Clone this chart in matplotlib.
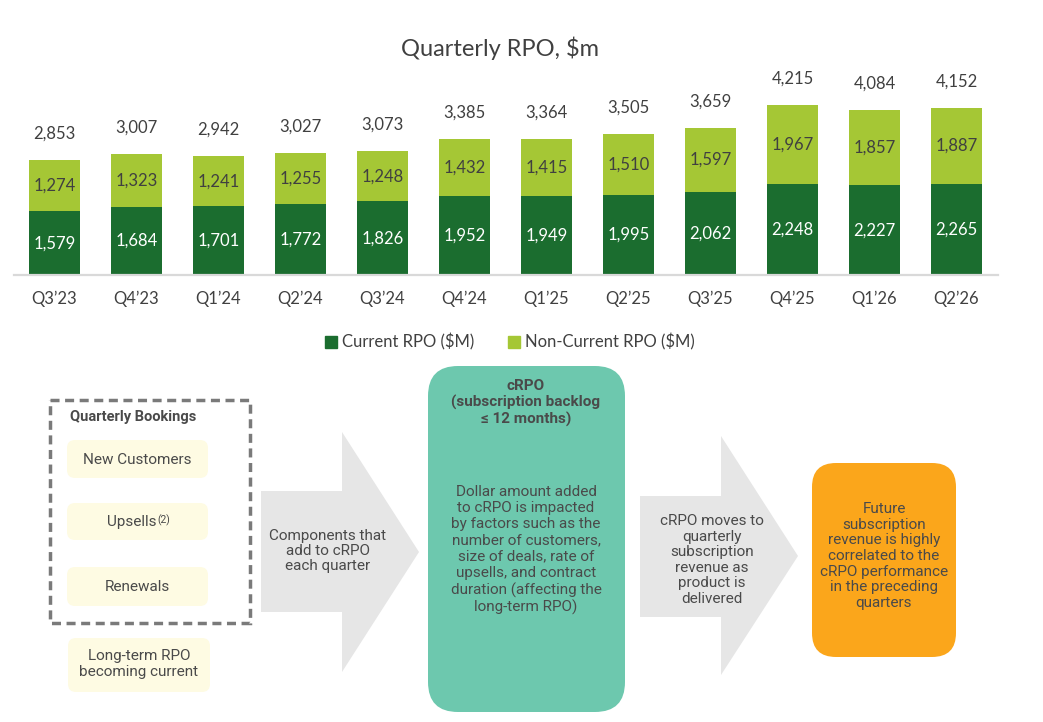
import matplotlib
matplotlib.use("Agg")
import matplotlib.pyplot as plt
from matplotlib.patches import FancyBboxPatch, Rectangle, Polygon, Patch

# ---------------- data ----------------
quarters = ["Q3’23", "Q4’23", "Q1’24", "Q2’24", "Q3’24", "Q4’24",
            "Q1’25", "Q2’25", "Q3’25", "Q4’25", "Q1’26", "Q2’26"]
current_rpo = [1579, 1684, 1701, 1772, 1826, 1952, 1949, 1995, 2062, 2248, 2227, 2265]
noncurrent_rpo = [1274, 1323, 1241, 1255, 1248, 1432, 1415, 1510, 1597, 1967, 1857, 1887]
total_rpo = [2853, 3007, 2942, 3027, 3073, 3385, 3364, 3505, 3659, 4215, 4084, 4152]
series_names = ["Current RPO ($M)", "Non-Current RPO ($M)"]

DARK = "#1B6D2F"
LIGHT = "#A5C735"
TXT = "#404040"
CH_FONT = ["Lato", "DejaVu Sans"]
DG_FONT = ["Roboto", "DejaVu Sans"]
DFS = 11

W, H = 1043, 722
fig = plt.figure(figsize=(W / 100, H / 100), dpi=100)

# overlay axes in pixel coordinates for diagram
ov = fig.add_axes([0, 0, 1, 1])
ov.set_xlim(0, W)
ov.set_ylim(H, 0)
ov.axis("off")

# ---------------- bar chart ----------------
ax = fig.add_axes([13.5 / W, 1 - 275 / H, 984 / W, 201.5 / H])
ax.set_zorder(2)
ax.patch.set_alpha(0)
x = list(range(len(quarters)))
b1 = ax.bar(x, current_rpo, width=0.62, color=DARK, label=series_names[0])
b2 = ax.bar(x, noncurrent_rpo, width=0.62, bottom=current_rpo, color=LIGHT,
            label=series_names[1])
ax.set_xlim(-0.5, len(quarters) - 0.5)
ax.set_ylim(0, 5000)
for s in ["top", "right", "left"]:
    ax.spines[s].set_visible(False)
ax.spines["bottom"].set_color("#d9d9d9")
ax.spines["bottom"].set_linewidth(1.6)
ax.set_yticks([])
ax.set_xticks(x)
ax.set_xticklabels(quarters, fontsize=12, color=TXT, family=CH_FONT)
ax.tick_params(axis="x", length=0, pad=11)

ax.bar_label(b1, labels=[f"{v:,}" for v in current_rpo], label_type="center",
             color="white", fontsize=12, family=CH_FONT)
ax.bar_label(b2, labels=[f"{v:,}" for v in noncurrent_rpo], label_type="center",
             color=TXT, fontsize=12, family=CH_FONT)
for i, t in enumerate(total_rpo):
    ax.annotate(f"{t:,}", xy=(i, current_rpo[i] + noncurrent_rpo[i]),
                xytext=(0, 19), textcoords="offset points", ha="center", va="center",
                fontsize=12, color=TXT, family=CH_FONT)

fig.text(500 / W, 1 - 48 / H, "Quarterly RPO, $m", ha="center", va="center",
         fontsize=17, color=TXT, family=CH_FONT)

handles = [Patch(color=DARK), Patch(color=LIGHT)]
fig.legend(handles, series_names, loc="center", bbox_to_anchor=(510 / W, 1 - 342 / H),
           ncol=2, frameon=False, handlelength=0.75, handleheight=0.75,
           handletextpad=0.3, columnspacing=2.0,
           prop={"family": CH_FONT, "size": 12}, labelcolor=TXT)

# ---------------- diagram ----------------
CREAM = "#FEFBE3"
GREY_ARROW = "#E6E6E6"
TEAL = "#6DC8AE"
ORANGE = "#FBA61B"
DTXT = "#4a4a4a"

# dashed box
ov.add_patch(Rectangle((50, 400), 200, 223, fill=False, edgecolor="#7a7a7a",
                       linewidth=2.5, linestyle=(0, (2.6, 1.6))))
ov.text(133, 417, "Quarterly Bookings", ha="center", va="center", fontsize=10.5,
        fontweight="bold", color=DTXT, family=DG_FONT)


def cream_box(x0, y0, w, h):
    ov.add_patch(FancyBboxPatch((x0, y0), w, h,
                                boxstyle="round,pad=0,rounding_size=8",
                                facecolor=CREAM, edgecolor="none"))


cream_box(67, 440, 141, 38)
ov.text(137.5, 460, "New Customers", ha="center", va="center", fontsize=DFS,
        color=DTXT, family=DG_FONT)
cream_box(67, 503, 141, 37)
t = ov.text(132, 522, "Upsells", ha="center", va="center", fontsize=DFS,
            color=DTXT, family=DG_FONT)
ov.annotate("(2)", xy=(1.02, 1.05), xycoords=t, ha="left", va="top", fontsize=7.5,
            color=DTXT, family=DG_FONT)
cream_box(67, 567, 141, 39)
ov.text(137.5, 587, "Renewals", ha="center", va="center", fontsize=DFS,
        color=DTXT, family=DG_FONT)
cream_box(68, 638, 142, 54)
ov.text(139, 664, "Long-term RPO\nbecoming current", ha="center", va="center",
        fontsize=DFS, color=DTXT, family=DG_FONT, linespacing=1.2)

# arrow 1
ov.add_patch(Polygon([(261, 491), (342, 491), (342, 432), (419, 552), (342, 672),
                      (342, 612), (261, 612)], closed=True, facecolor=GREY_ARROW,
                     edgecolor="none"))
ov.text(328, 551, "Components that\nadd to cRPO\neach quarter", ha="center",
        va="center", fontsize=DFS, color=DTXT, family=DG_FONT, linespacing=1.1)

# teal box
ov.add_patch(FancyBboxPatch((428, 366), 197, 346,
                            boxstyle="round,pad=0,rounding_size=30",
                            facecolor=TEAL, edgecolor="none"))
ov.text(526, 403, "cRPO\n(subscription backlog\n≤ 12 months)", ha="center",
        va="center", fontsize=DFS, fontweight="bold", color=DTXT, family=DG_FONT,
        linespacing=1.2)
ov.text(526, 550, "Dollar amount added\nto cRPO is impacted\nby factors such as the\n"
        "number of customers,\nsize of deals, rate of\nupsells, and contract\n"
        "duration (affecting the\nlong-term RPO)", ha="center", va="center",
        fontsize=DFS, color=DTXT, family=DG_FONT, linespacing=1.2)

# arrow 2
ov.add_patch(Polygon([(640, 496), (721, 496), (721, 436), (798, 556), (721, 675),
                      (721, 617), (640, 617)], closed=True, facecolor=GREY_ARROW,
                     edgecolor="none"))
ov.text(712, 560, "cRPO moves to\nquarterly\nsubscription\nrevenue as\nproduct is\ndelivered",
        ha="center", va="center", fontsize=DFS, color=DTXT, family=DG_FONT,
        linespacing=1.15)

# orange box
ov.add_patch(FancyBboxPatch((812, 463), 144, 194,
                            boxstyle="round,pad=0,rounding_size=24",
                            facecolor=ORANGE, edgecolor="none"))
ov.text(884, 556, "Future\nsubscription\nrevenue is highly\ncorrelated to the\n"
        "cRPO performance\nin the preceding\nquarters", ha="center", va="center",
        fontsize=DFS, color=DTXT, family=DG_FONT, linespacing=1.15)

fig.savefig("out.png", dpi=100)
